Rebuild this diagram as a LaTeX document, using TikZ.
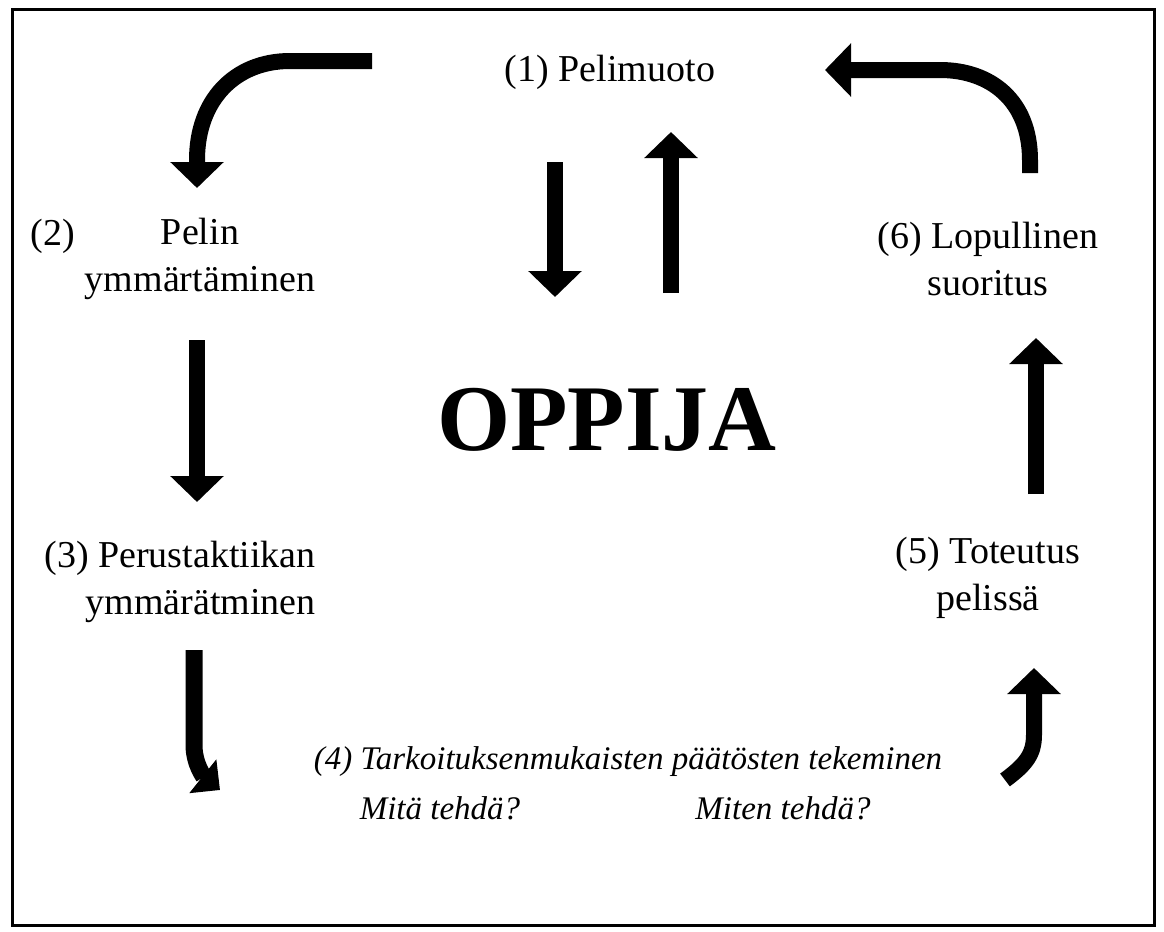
\documentclass[tikz,border=0pt]{standalone}
\usepackage{fontspec}
\setmainfont{Liberation Serif}
\usetikzlibrary{arrows.meta}

\begin{document}
\begin{tikzpicture}[
    x=0.5pt, y=-0.5pt,
    every node/.style={inner sep=0pt},
    step text/.style={
      font=\fontsize{19}{23.5}\selectfont,
      align=center
    },
    goal text/.style={font=\fontsize{16.5}{20}\selectfont\itshape},
    fat arrow/.style={
      line width=8pt,
      -{Triangle[length=13pt,width=26pt]}
    },
    hook arrow/.style={
      line width=8.5pt,
      -{Triangle[length=11pt,width=21pt]}
    }
  ]
    \useasboundingbox (0,0) rectangle (1164,932);
    \draw[line width=1.5pt] (12,9) rectangle (1154,925);

    % steps of the cycle
    \node[step text]                    (S1)  at (610,72)  {(1) Pelimuoto};
    \node[step text, anchor=west]       (S2n) at (30,236)  {(2)};
    \node[step text]                    (S2)  at (200,259) {Pelin\\ymmärtäminen};
    \node[step text, align=right, anchor=east] (S3) at (316,582) {(3) Perustaktiikan\\ymmärätminen};
    \node[goal text]                    (S4)  at (628,762) {(4) Tarkoituksenmukaisten päätösten tekeminen};
    \node[goal text]                    (Q1)  at (440,808) {Mitä tehdä?};
    \node[goal text]                    (Q2)  at (783,808) {Miten tehdä?};
    \node[step text]                    (S5)  at (988,578) {(5) Toteutus\\pelissä};
    \node[step text]                    (S6)  at (988,259) {(6) Lopullinen\\suoritus};
    \node[font=\fontsize{47}{52}\selectfont\bfseries] (L) at (607,420) {OPPIJA};

    % arrow ends
    \coordinate (a1s) at (372,61);
    \coordinate (a1e) at (197,188);
    \coordinate (a2s) at (197,340);
    \coordinate (a2e) at (197,502);
    \coordinate (a3s) at (194,650);
    \coordinate (a3e) at (220,790);
    \coordinate (a4s) at (1005,780);
    \coordinate (a4e) at (1034,668);
    \coordinate (a5s) at (1036,494);
    \coordinate (a5e) at (1036,338);
    \coordinate (a6s) at (1030,173);
    \coordinate (a6e) at (825,70);
    \coordinate (dns) at (555,162);
    \coordinate (dne) at (555,297);
    \coordinate (ups) at (671,293);
    \coordinate (upe) at (671,132);

    \draw[fat arrow] (a1s) -- (290,61) .. controls (235,61) and (197,100) .. (197,160) -- (a1e);
    \draw[fat arrow] (a2s) -- (a2e);
    \draw[hook arrow] (a3s) -- (194,745) .. controls (194,765) and (205,778) .. (a3e);
    \draw[fat arrow] (a4s) .. controls (1025,765) and (1034,755) .. (1034,735) -- (a4e);
    \draw[fat arrow] (a5s) -- (a5e);
    \draw[fat arrow] (a6s) -- (1030,160) .. controls (1030,100) and (990,70) .. (940,70) -- (a6e);
    \draw[fat arrow] (dns) -- (dne);
    \draw[fat arrow] (ups) -- (upe);
\end{tikzpicture}
\end{document}
